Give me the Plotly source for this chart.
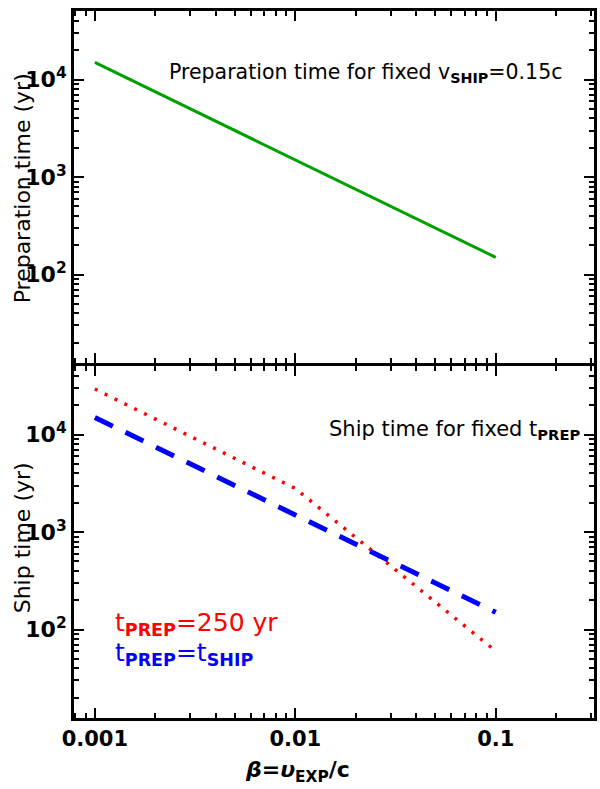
import plotly.graph_objects as go
from plotly.subplots import make_subplots

# ---- data ----
beta_prep = [0.001, 0.1]
t_prep = [15000, 150]

beta_eq = [0.001, 0.1]
t_ship_eq = [15000, 150]

beta_250 = [0.001, 0.002, 0.005, 0.01, 0.02, 0.05, 0.1]
t_ship_250 = [29400, 14500, 5700, 2800, 880, 190, 60]

x_tickvals = [0.001, 0.01, 0.1]
x_ticktext = ["0.001", "0.01", "0.1"]
y_tickvals = [100, 1000, 10000]
y_ticktext = ["10<sup>2</sup>", "10<sup>3</sup>", "10<sup>4</sup>"]

x_minor = [0.0008, 0.0009] + [m * 0.001 for m in range(2, 10)] + [m * 0.01 for m in range(2, 10)] + [0.2, 0.3]
y_minor = [m * 10 for m in range(2, 10)] + [m * 100 for m in range(2, 10)] + [m * 1000 for m in range(2, 10)] + [20000, 30000, 40000]

# ---- geometry ----
W, H = 600, 789
L, R, T, B = 74, 3, 11, 71
PW = W - L - R
PH = H - T - B
XR = [-3.104, -0.51]
YR = [1.092, 4.704]
LW = 3
TOP_DOM = [0.5 + (LW / 2) / PH, 1]
BOT_DOM = [0, 0.5 - (LW / 2) / PH]


def px(x):
    return (x - L) / PW


def py(y):
    return (H - B - y) / PH


FONT = "DejaVu Sans"

fig = make_subplots(rows=2, cols=1, shared_xaxes=True, vertical_spacing=0)

fig.add_trace(go.Scatter(x=beta_prep, y=t_prep, mode="lines",
                         line=dict(color="#00a000", width=3)), row=1, col=1)
fig.add_trace(go.Scatter(x=beta_250, y=t_ship_250, mode="lines",
                         line=dict(color="#ff0000", width=3.5, dash="3px,8px")), row=2, col=1)
fig.add_trace(go.Scatter(x=beta_eq, y=t_ship_eq, mode="lines",
                         line=dict(color="#0000ff", width=5, dash="20px,14px")), row=2, col=1)

# invisible traces to carry the minor-tick overlay axes
fig.add_trace(go.Scatter(x=[beta_prep[0]], y=[t_prep[0]], xaxis="x3", yaxis="y3", mode="markers",
                         marker=dict(opacity=0), hoverinfo="skip"))
fig.add_trace(go.Scatter(x=[beta_eq[0]], y=[t_ship_eq[0]], xaxis="x4", yaxis="y4", mode="markers",
                         marker=dict(opacity=0), hoverinfo="skip"))

xaxis_common = dict(
    type="log", range=XR,
    showline=True, linewidth=LW, linecolor="black", mirror="allticks",
    ticks="inside", ticklen=10, tickwidth=2, tickcolor="black",
    tickvals=x_tickvals, ticktext=["<b>%s</b>" % t for t in x_ticktext],
    tickfont=dict(family=FONT, size=21, color="black"),
    showgrid=False, zeroline=False,
)
yaxis_common = dict(
    type="log", range=YR,
    showline=True, linewidth=LW, linecolor="black", mirror="allticks",
    ticks="inside", ticklen=10, tickwidth=2, tickcolor="black",
    tickvals=y_tickvals, ticktext=["<b>%s</b>" % t for t in y_ticktext],
    tickfont=dict(family=FONT, size=22, color="black"),
    showgrid=False, zeroline=False,
)

fig.update_xaxes(**xaxis_common)
fig.update_xaxes(showticklabels=False, row=1, col=1)
fig.update_yaxes(**yaxis_common)

minor_x = dict(type="log", range=XR, showline=False, mirror="allticks",
               ticks="inside", ticklen=5, tickwidth=1.5, tickcolor="black",
               tickmode="array", tickvals=x_minor, showticklabels=False,
               showgrid=False, zeroline=False)
minor_y = dict(type="log", range=YR, showline=False, mirror="allticks",
               ticks="inside", ticklen=5, tickwidth=1.5, tickcolor="black",
               tickmode="array", tickvals=y_minor, showticklabels=False,
               showgrid=False, zeroline=False)

fig.update_layout(
    yaxis=dict(domain=TOP_DOM),
    yaxis2=dict(domain=BOT_DOM),
    xaxis3=dict(minor_x, overlaying="x", anchor="y3"),
    yaxis3=dict(minor_y, overlaying="y", anchor="x3", domain=TOP_DOM),
    xaxis4=dict(minor_x, overlaying="x2", anchor="y4"),
    yaxis4=dict(minor_y, overlaying="y2", anchor="x4", domain=BOT_DOM),
)

annotations = [
    dict(x=px(168), y=py(73), xanchor="left", yanchor="middle",
         text="Preparation time for fixed v<sub><b>SHIP</b></sub>=0.15c",
         font=dict(family=FONT, size=20.5, color="black")),
    dict(x=px(328), y=py(430), xanchor="left", yanchor="middle",
         text="Ship time for fixed t<sub><b>PREP</b></sub>",
         font=dict(family=FONT, size=21, color="black")),
    dict(x=px(113), y=py(624), xanchor="left", yanchor="middle",
         text="t<sub><b>PREP</b></sub>=250 yr",
         font=dict(family=FONT, size=25, color="#ff0000")),
    dict(x=px(113), y=py(654), xanchor="left", yanchor="middle",
         text="t<sub><b>PREP</b></sub>=t<sub><b>SHIP</b></sub>",
         font=dict(family=FONT, size=25, color="#0000ff")),
    dict(x=px(22), y=py(188), xanchor="center", yanchor="middle", textangle=-90,
         text="Preparation time (yr)",
         font=dict(family=FONT, size=22, color="black")),
    dict(x=px(22), y=py(538), xanchor="center", yanchor="middle", textangle=-90,
         text="Ship time (yr)",
         font=dict(family=FONT, size=22, color="black")),
    dict(x=px(299), y=py(771), xanchor="center", yanchor="middle",
         text="<b><i>β</i>=<i>υ</i><sub>EXP</sub>/c</b>",
         font=dict(family=FONT, size=22, color="black")),
]
for a in annotations:
    a.update(xref="paper", yref="paper", showarrow=False)

fig.update_layout(
    width=W, height=H,
    margin=dict(l=L, r=R, t=T, b=B),
    paper_bgcolor="white", plot_bgcolor="white",
    showlegend=False,
    annotations=annotations,
)

fig.write_html("out.html")
